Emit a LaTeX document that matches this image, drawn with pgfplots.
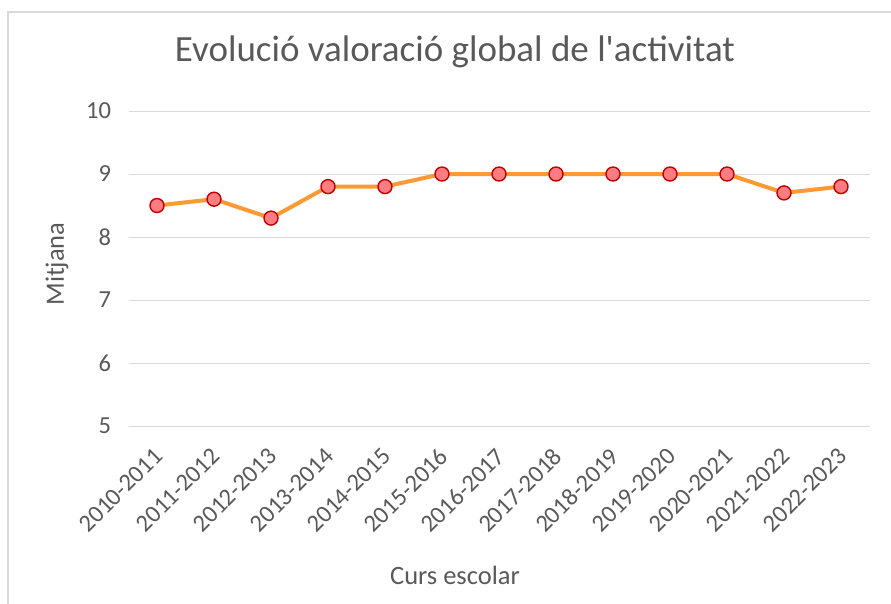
\documentclass[border=0pt]{standalone}
\usepackage{pgfplots}
\pgfplotsset{compat=1.18}
\usepackage{fontspec}
\setmainfont{Carlito}
\definecolor{txt}{HTML}{595959}
\definecolor{grd}{HTML}{D9D9D9}
\definecolor{lineor}{HTML}{FF9933}
\definecolor{mkfill}{HTML}{FF7C80}
\definecolor{mkedge}{HTML}{C00000}
\begin{document}
\begin{tikzpicture}[x=1pt,y=1pt]
\begin{axis}[
    at={(128.5pt,-426pt)}, anchor=south west,
    scale only axis,
    width=741pt, height=315pt,
    xmin=-0.5, xmax=12.5,
    ymin=5, ymax=10,
    xtick={0,...,12},
    xticklabels={2010-2011,2011-2012,2012-2013,2013-2014,2014-2015,2015-2016,2016-2017,2017-2018,2018-2019,2019-2020,2020-2021,2021-2022,2022-2023},
    ytick={5,6,7,8,9,10},
    major tick length=0pt,
    ymajorgrids,
    grid style={grd, line width=1pt},
    axis lines=left,
    x axis line style={grd, line width=1pt, -},
    y axis line style={draw=none},
    tick label style={font=\fontsize{24.5}{28}\selectfont, text=txt},
    /pgf/number format/assume math mode=true,
    yticklabel style={xshift=-14pt},
    xticklabel style={rotate=45, anchor=north east, xshift=-14pt, yshift=-8pt},
    title={Evolució valoració global de l\textquotesingle activitat},
    title style={font=\fontsize{37}{42}\selectfont, text=txt, at={(0.4406,1)}, anchor=center, yshift=53pt},
    xlabel={Curs escolar},
    xlabel style={font=\fontsize{26.5}{30}\selectfont, text=txt, at={(0.4406,0)}, anchor=center, yshift=-149pt},
    ylabel={Mitjana},
    ylabel style={font=\fontsize{26.5}{30}\selectfont, text=txt, at={(0,0.5)}, anchor=center, yshift=71.5pt, xshift=4.5pt},
    clip=false,
]
\addplot[lineor, line width=4pt, mark=*, mark size=7pt,
    mark options={fill=mkfill, draw=mkedge, line width=1.4pt}]
coordinates {
(0,8.5) (1,8.6) (2,8.3) (3,8.8) (4,8.8) (5,9.0) (6,9.0)
(7,9.0) (8,9.0) (9,9.0) (10,9.0) (11,8.7) (12,8.8)
};
\end{axis}
\draw[grd, line width=1.2pt] (8,-610) -- (8,-12) -- (900,-12);
\pgfresetboundingbox
\path[use as bounding box] (0,0) rectangle (891,-603);
\end{tikzpicture}
\end{document}
